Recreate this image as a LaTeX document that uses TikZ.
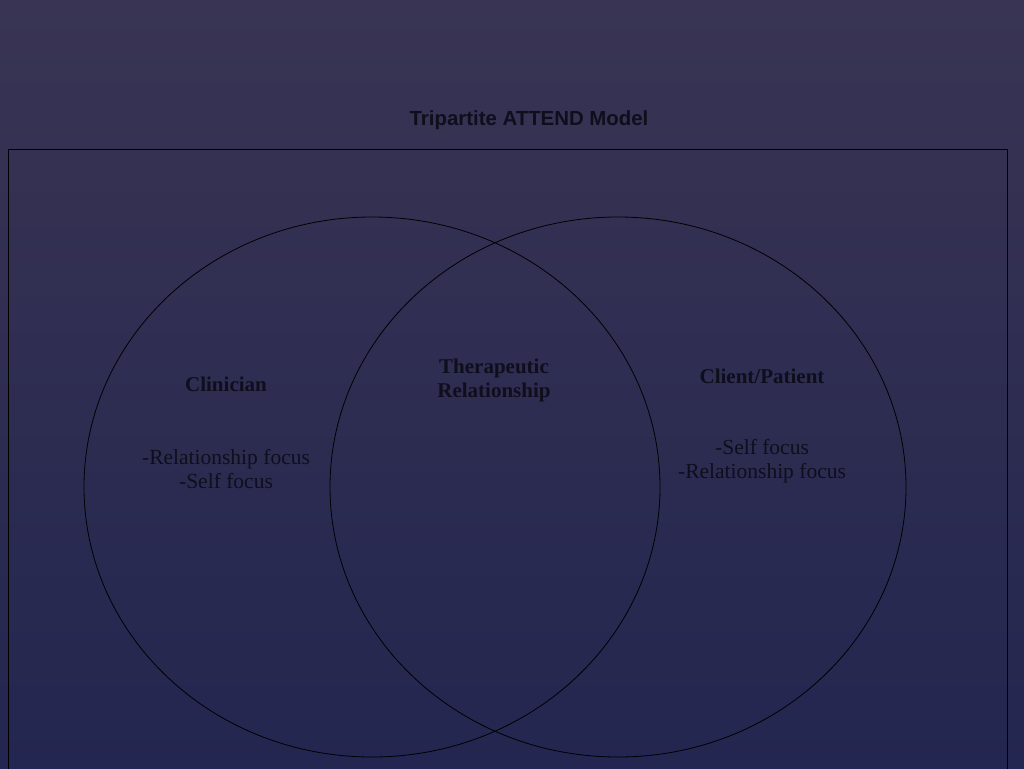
\documentclass[tikz,border=0pt]{standalone}
\usepackage{fontspec}
\setmainfont{Liberation Serif}
\newfontfamily\titlefont{Liberation Sans}
\usepackage{tikz}
\usetikzlibrary{positioning}
\definecolor{bgtop}{RGB}{57, 52, 83}
\definecolor{bgbottom}{RGB}{35, 38, 80}
\definecolor{inkcolor}{RGB}{14, 14, 28}

\tikzset{
    heading/.style={font=\bfseries\fontsize{21}{24}\selectfont, text=inkcolor, align=center, inner sep=0pt},
    focus/.style={font=\fontsize{21.5}{24}\selectfont, text=inkcolor, align=center, inner sep=0pt},
    ring/.style={draw=black, line width=0.8pt}
}

\begin{document}
\begin{tikzpicture}[x=1pt, y=-1pt]
    % Background
    \shade[top color=bgtop, bottom color=bgbottom] (0, 0) rectangle (1024, 768);
    \useasboundingbox (0, 0) rectangle (1024, 768);

    % Title
    \node[font=\titlefont\bfseries\fontsize{20.4}{24}\selectfont, text=inkcolor, inner sep=0pt] (title) at (529, 120) {Tripartite ATTEND Model};

    % Frame
    \draw[black, line width=0.8pt] (8, 790) -- (8, 149) -- (1007, 149) -- (1007, 790);

    % Circles
    \draw[ring] (372, 487) ellipse [x radius=288, y radius=270];
    \draw[ring] (618, 487) ellipse [x radius=288, y radius=270];

    % Clinician
    \node[heading] (clinician) at (226, 384) {Clinician};
    \node[focus] (clinfocus) at (226, 469) {-Relationship focus\\-Self focus};

    % Overlap
    \node[heading] (relation) at (494, 380) {Therapeutic\\Relationship};

    % Client/Patient
    \node[heading] (client) at (762, 376) {Client/Patient};
    \node[focus] (clientfocus) at (762, 461) {-Self focus\\-Relationship focus};
\end{tikzpicture}
\end{document}
